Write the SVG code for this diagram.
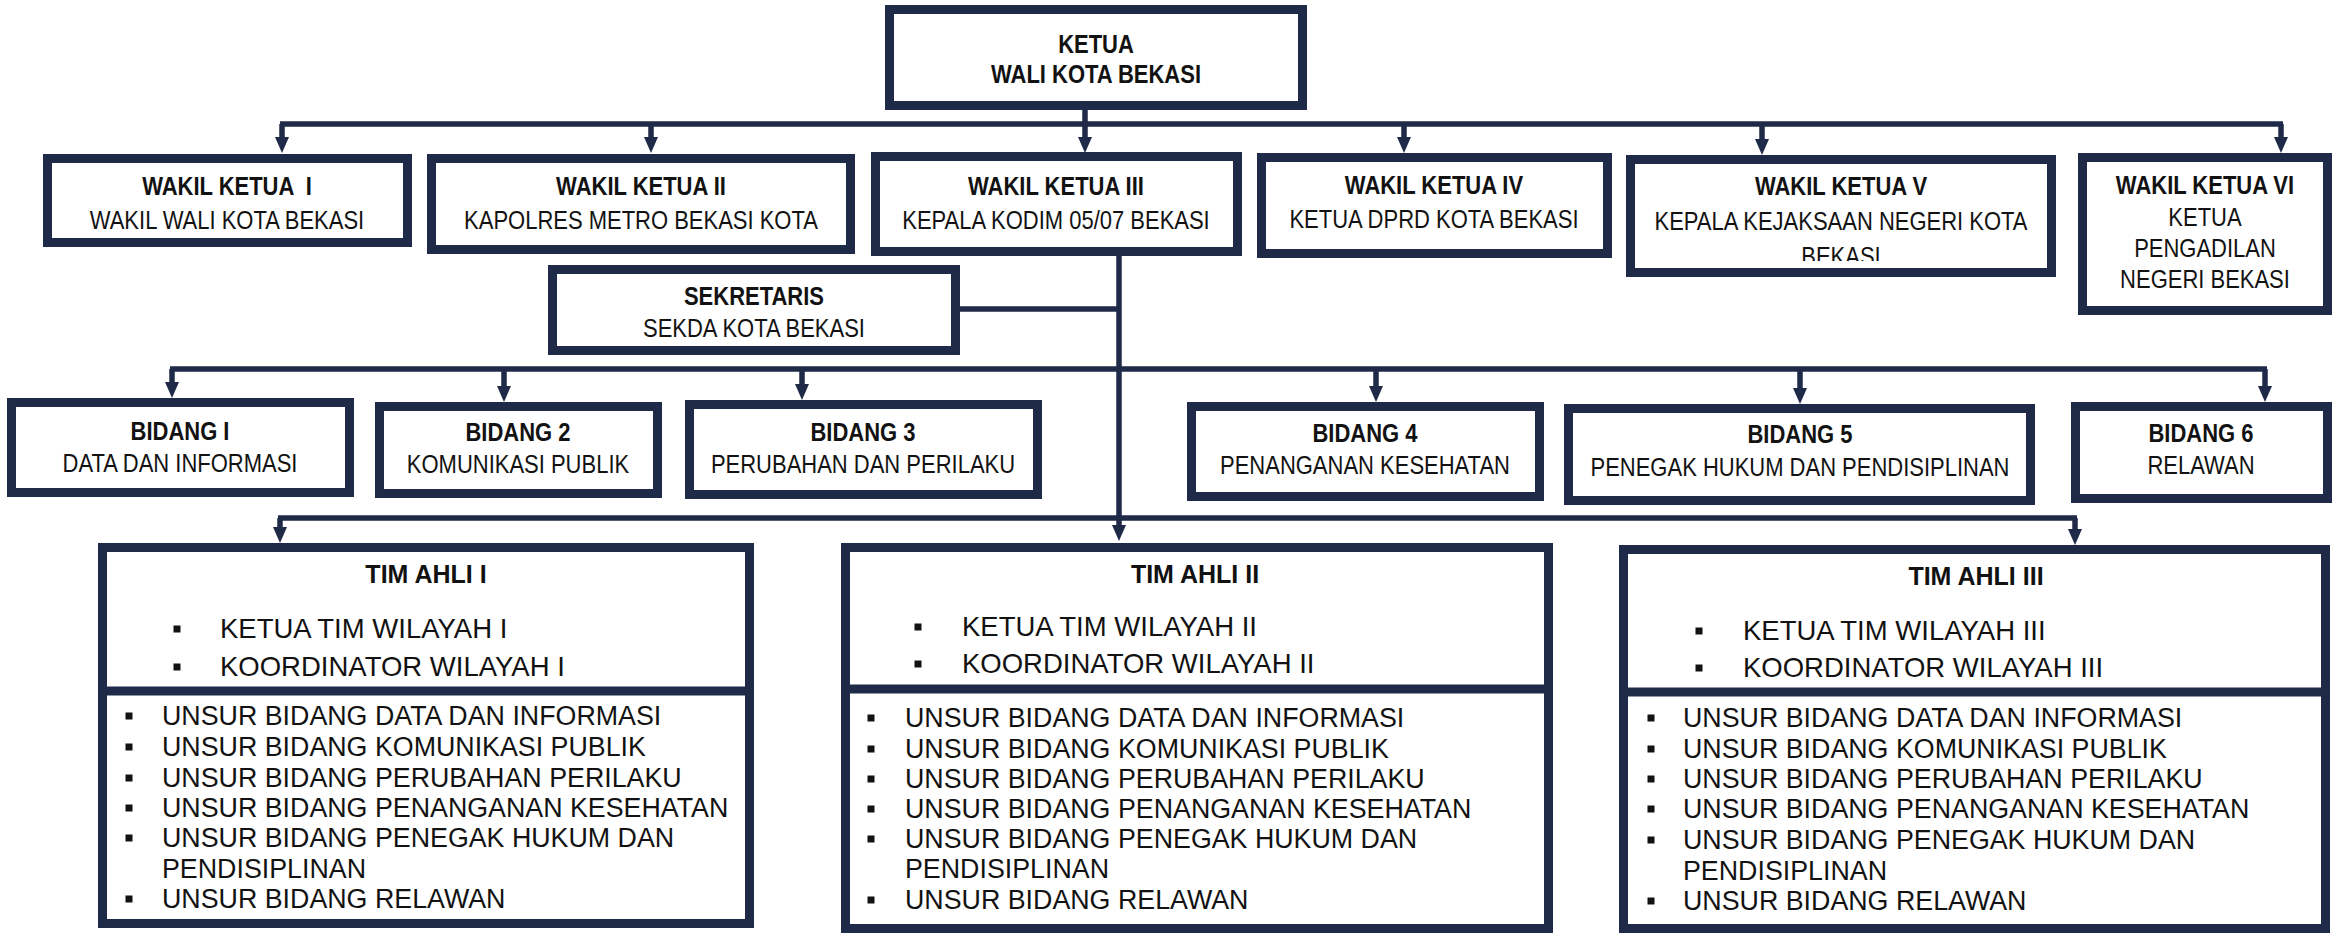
<svg xmlns="http://www.w3.org/2000/svg" width="2335" height="933" viewBox="0 0 2335 933">
<style>
.box{fill:#fff;stroke:#1f2a48;stroke-width:9}
.div{stroke:#1f2a48;stroke-width:9}
.ln{fill:none;stroke:#1f2a48;stroke-width:5.5}
.ar{fill:none;stroke:#1f2a48;stroke-width:5.5;marker-end:url(#arr)}
.t{font-family:"Liberation Sans",Arial,sans-serif;fill:#121212;font-size:22px;text-anchor:middle}
.b{font-weight:bold}
.l{font-family:"Liberation Sans",Arial,sans-serif;fill:#121212;font-size:26.8px}
.u{font-family:"Liberation Sans",Arial,sans-serif;fill:#121212;font-size:27.5px}
.h{font-family:"Liberation Sans",Arial,sans-serif;fill:#121212;font-size:25px;font-weight:bold;text-anchor:middle}
.bl{fill:#121212}
</style>
<defs>
<marker id="arr" markerUnits="userSpaceOnUse" markerWidth="16" markerHeight="14" viewBox="0 0 16 14" refX="8" refY="7" orient="auto">
<path d="M0,0 L16,7 L0,14 z" fill="#1f2a48"/>
</marker>
<clipPath id="clipV"><rect x="1630" y="150" width="430" height="111"/></clipPath>
</defs>
<rect width="2335" height="933" fill="#fff"/>

<g id="connectors">
<path class="ln" d="M280,124 H2283"/>
<path class="ar" d="M1085,110 V145"/>
<path class="ar" d="M282,124 V145"/>
<path class="ar" d="M651,124 V145"/>
<path class="ar" d="M1404,124 V145"/>
<path class="ar" d="M1762,124 V147"/>
<path class="ar" d="M2281,124 V145"/>
<path class="ar" d="M1119,256 V533"/>
<path class="ln" d="M960,309 H1119"/>
<path class="ln" d="M170,369 H2267"/>
<path class="ar" d="M172,369 V390"/>
<path class="ar" d="M504,369 V394"/>
<path class="ar" d="M802,369 V392"/>
<path class="ar" d="M1376,369 V394"/>
<path class="ar" d="M1800,369 V396"/>
<path class="ar" d="M2265,369 V394"/>
<path class="ln" d="M278,518 H2077"/>
<path class="ar" d="M280,518 V535"/>
<path class="ar" d="M2075,518 V537"/>
</g>

<g id="ketua">
<rect class="box" x="889.5" y="9.5" width="413" height="96"/>
<text class="t b" x="1096" transform="translate(0,53) scale(1,1.15)">KETUA</text>
<text class="t b" x="1096" transform="translate(0,83) scale(1,1.15)">WALI KOTA BEKASI</text>
</g>

<g id="wakil1">
<rect class="box" x="47.5" y="158.5" width="360" height="84"/>
<text class="t b" x="227" transform="translate(0,195) scale(1,1.15)" xml:space="preserve">WAKIL KETUA  I</text>
<text class="t" x="227" transform="translate(0,229) scale(1,1.15)">WAKIL WALI KOTA BEKASI</text>
</g>

<g id="wakil2">
<rect class="box" x="431.5" y="158.5" width="419" height="91"/>
<text class="t b" x="641" transform="translate(0,195) scale(1,1.15)">WAKIL KETUA II</text>
<text class="t" x="641" transform="translate(0,229) scale(1,1.15)">KAPOLRES METRO BEKASI KOTA</text>
</g>

<g id="wakil3">
<rect class="box" x="875.5" y="156.5" width="362" height="95"/>
<text class="t b" x="1056" transform="translate(0,195) scale(1,1.15)">WAKIL KETUA III</text>
<text class="t" x="1056" transform="translate(0,229) scale(1,1.15)">KEPALA KODIM 05/07 BEKASI</text>
</g>

<g id="wakil4">
<rect class="box" x="1261.5" y="157.5" width="346" height="96"/>
<text class="t b" x="1434" transform="translate(0,194) scale(1,1.15)">WAKIL KETUA IV</text>
<text class="t" x="1434" transform="translate(0,228) scale(1,1.15)">KETUA DPRD KOTA BEKASI</text>
</g>

<g id="wakil5">
<rect class="box" x="1630.5" y="159.5" width="421" height="113"/>
<text class="t b" x="1841" transform="translate(0,195) scale(1,1.15)">WAKIL KETUA V</text>
<text class="t" x="1841" transform="translate(0,230) scale(1,1.15)">KEPALA KEJAKSAAN NEGERI KOTA</text>
<g clip-path="url(#clipV)"><text class="t" x="1841" transform="translate(0,265) scale(1,1.15)">BEKASI</text></g>
</g>

<g id="wakil6">
<rect class="box" x="2082.5" y="157.5" width="245" height="153"/>
<text class="t b" x="2205" transform="translate(0,194) scale(1,1.15)">WAKIL KETUA VI</text>
<text class="t" x="2205" transform="translate(0,226) scale(1,1.15)">KETUA</text>
<text class="t" x="2205" transform="translate(0,257) scale(1,1.15)">PENGADILAN</text>
<text class="t" x="2205" transform="translate(0,288) scale(1,1.15)">NEGERI BEKASI</text>
</g>

<g id="sekretaris">
<rect class="box" x="552.5" y="269.5" width="403" height="81"/>
<text class="t b" x="754" transform="translate(0,305) scale(1,1.15)">SEKRETARIS</text>
<text class="t" x="754" transform="translate(0,337) scale(1,1.15)">SEKDA KOTA BEKASI</text>
</g>

<g id="bidang1">
<rect class="box" x="11.5" y="402.5" width="338" height="90"/>
<text class="t b" x="180" transform="translate(0,440) scale(1,1.15)">BIDANG I</text>
<text class="t" x="180" transform="translate(0,472) scale(1,1.15)">DATA DAN INFORMASI</text>
</g>

<g id="bidang2">
<rect class="box" x="379.5" y="406.5" width="278" height="87"/>
<text class="t b" x="518" transform="translate(0,441) scale(1,1.15)">BIDANG 2</text>
<text class="t" x="518" transform="translate(0,473) scale(1,1.15)">KOMUNIKASI PUBLIK</text>
</g>

<g id="bidang3">
<rect class="box" x="689.5" y="404.5" width="348" height="90"/>
<text class="t b" x="863" transform="translate(0,441) scale(1,1.15)">BIDANG 3</text>
<text class="t" x="863" transform="translate(0,473) scale(1,1.15)">PERUBAHAN DAN PERILAKU</text>
</g>

<g id="bidang4">
<rect class="box" x="1191.5" y="406.5" width="348" height="90"/>
<text class="t b" x="1365" transform="translate(0,442) scale(1,1.15)">BIDANG 4</text>
<text class="t" x="1365" transform="translate(0,474) scale(1,1.15)">PENANGANAN KESEHATAN</text>
</g>

<g id="bidang5">
<rect class="box" x="1568.5" y="408.5" width="462" height="92"/>
<text class="t b" x="1800" transform="translate(0,443) scale(1,1.15)">BIDANG 5</text>
<text class="t" x="1800" transform="translate(0,476) scale(1,1.15)">PENEGAK HUKUM DAN PENDISIPLINAN</text>
</g>

<g id="bidang6">
<rect class="box" x="2075.5" y="406.5" width="252" height="92"/>
<text class="t b" x="2201" transform="translate(0,442) scale(1,1.15)">BIDANG 6</text>
<text class="t" x="2201" transform="translate(0,474) scale(1,1.15)">RELAWAN</text>
</g>

<g id="timahli1">
<rect class="box" x="102.5" y="547.5" width="647" height="376"/>
<line class="div" x1="98" y1="691" x2="754" y2="691"/>
<text class="h" x="426" y="583">TIM AHLI I</text>
<rect class="bl" x="173.5" y="625.5" width="7" height="7"/>
<text class="u" x="220" y="638">KETUA TIM WILAYAH I</text>
<rect class="bl" x="173.5" y="663.5" width="7" height="7"/>
<text class="u" x="220" y="676">KOORDINATOR WILAYAH I</text>
<rect class="bl" x="125.5" y="712.5" width="7" height="7"/>
<text class="l" x="162" y="725">UNSUR BIDANG DATA DAN INFORMASI</text>
<rect class="bl" x="125.5" y="743.5" width="7" height="7"/>
<text class="l" x="162" y="756">UNSUR BIDANG KOMUNIKASI PUBLIK</text>
<rect class="bl" x="125.5" y="774.5" width="7" height="7"/>
<text class="l" x="162" y="787">UNSUR BIDANG PERUBAHAN PERILAKU</text>
<rect class="bl" x="125.5" y="804.5" width="7" height="7"/>
<text class="l" x="162" y="817">UNSUR BIDANG PENANGANAN KESEHATAN</text>
<rect class="bl" x="125.5" y="834.5" width="7" height="7"/>
<text class="l" x="162" y="847">UNSUR BIDANG PENEGAK HUKUM DAN</text>
<text class="l" x="162" y="878">PENDISIPLINAN</text>
<rect class="bl" x="125.5" y="895.5" width="7" height="7"/>
<text class="l" x="162" y="908">UNSUR BIDANG RELAWAN</text>
</g>

<g id="timahli2">
<rect class="box" x="845.5" y="547.5" width="703" height="381"/>
<line class="div" x1="841" y1="689" x2="1553" y2="689"/>
<text class="h" x="1195" y="583">TIM AHLI II</text>
<rect class="bl" x="914.5" y="623.5" width="7" height="7"/>
<text class="u" x="962" y="636">KETUA TIM WILAYAH II</text>
<rect class="bl" x="914.5" y="660.5" width="7" height="7"/>
<text class="u" x="962" y="673">KOORDINATOR WILAYAH II</text>
<rect class="bl" x="867.5" y="714.5" width="7" height="7"/>
<text class="l" x="905" y="727">UNSUR BIDANG DATA DAN INFORMASI</text>
<rect class="bl" x="867.5" y="745.5" width="7" height="7"/>
<text class="l" x="905" y="758">UNSUR BIDANG KOMUNIKASI PUBLIK</text>
<rect class="bl" x="867.5" y="775.5" width="7" height="7"/>
<text class="l" x="905" y="788">UNSUR BIDANG PERUBAHAN PERILAKU</text>
<rect class="bl" x="867.5" y="805.5" width="7" height="7"/>
<text class="l" x="905" y="818">UNSUR BIDANG PENANGANAN KESEHATAN</text>
<rect class="bl" x="867.5" y="835.5" width="7" height="7"/>
<text class="l" x="905" y="848">UNSUR BIDANG PENEGAK HUKUM DAN</text>
<text class="l" x="905" y="878">PENDISIPLINAN</text>
<rect class="bl" x="867.5" y="896.5" width="7" height="7"/>
<text class="l" x="905" y="909">UNSUR BIDANG RELAWAN</text>
</g>

<g id="timahli3">
<rect class="box" x="1623.5" y="549.5" width="702" height="379"/>
<line class="div" x1="1619" y1="692" x2="2330" y2="692"/>
<text class="h" x="1976" y="585">TIM AHLI III</text>
<rect class="bl" x="1695.5" y="627.5" width="7" height="7"/>
<text class="u" x="1743" y="640">KETUA TIM WILAYAH III</text>
<rect class="bl" x="1695.5" y="664.5" width="7" height="7"/>
<text class="u" x="1743" y="677">KOORDINATOR WILAYAH III</text>
<rect class="bl" x="1647.5" y="714.5" width="7" height="7"/>
<text class="l" x="1683" y="727">UNSUR BIDANG DATA DAN INFORMASI</text>
<rect class="bl" x="1647.5" y="745.5" width="7" height="7"/>
<text class="l" x="1683" y="758">UNSUR BIDANG KOMUNIKASI PUBLIK</text>
<rect class="bl" x="1647.5" y="775.5" width="7" height="7"/>
<text class="l" x="1683" y="788">UNSUR BIDANG PERUBAHAN PERILAKU</text>
<rect class="bl" x="1647.5" y="805.5" width="7" height="7"/>
<text class="l" x="1683" y="818">UNSUR BIDANG PENANGANAN KESEHATAN</text>
<rect class="bl" x="1647.5" y="836.5" width="7" height="7"/>
<text class="l" x="1683" y="849">UNSUR BIDANG PENEGAK HUKUM DAN</text>
<text class="l" x="1683" y="880">PENDISIPLINAN</text>
<rect class="bl" x="1647.5" y="897.5" width="7" height="7"/>
<text class="l" x="1683" y="910">UNSUR BIDANG RELAWAN</text>
</g>
</svg>
